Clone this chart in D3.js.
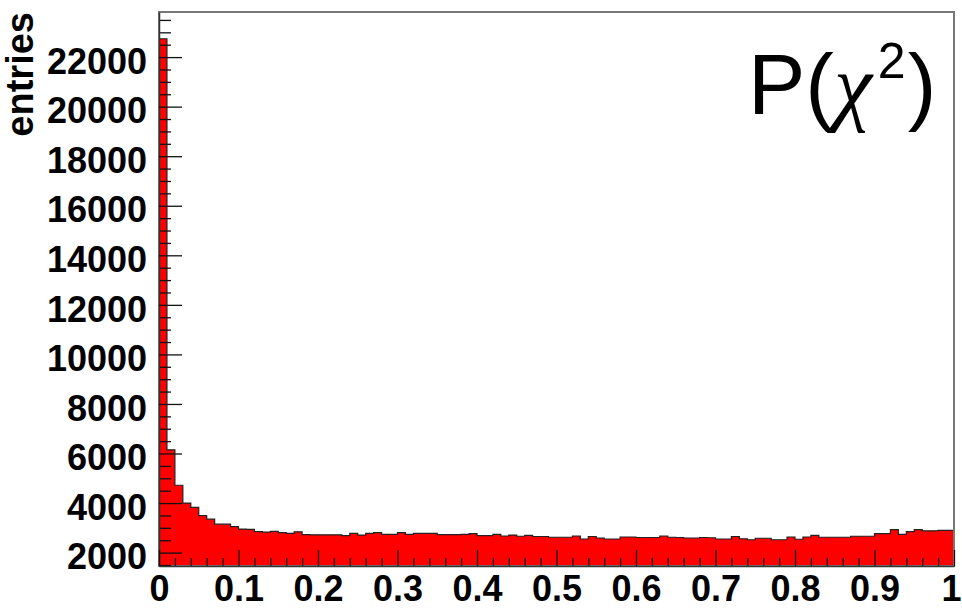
<!DOCTYPE html>
<html>
<head>
<meta charset="utf-8">
<script src="https://cdn.jsdelivr.net/npm/d3@7"></script>
<style>
  html, body { margin: 0; padding: 0; background: #fff; }
  svg { display: block; }
</style>
</head>
<body>
<div id="chart"></div>
<script>
// histogram of P(chi2), 100 bins between 0 and 1
const binCounts = [
  22740, 6150, 4720, 4000, 3830, 3490, 3350, 3150, 3150, 3050,
  2950, 2940, 2850, 2830, 2860, 2810, 2780, 2840, 2730, 2720,
  2720, 2720, 2720, 2690, 2780, 2710, 2780, 2810, 2740, 2740,
  2810, 2740, 2780, 2780, 2780, 2730, 2730, 2730, 2740, 2770,
  2690, 2690, 2740, 2670, 2710, 2660, 2700, 2650, 2650, 2620,
  2620, 2620, 2670, 2550, 2650, 2590, 2550, 2550, 2630, 2630,
  2610, 2610, 2610, 2670, 2620, 2610, 2590, 2590, 2610, 2600,
  2550, 2550, 2650, 2560, 2520, 2580, 2580, 2520, 2520, 2630,
  2540, 2630, 2700, 2620, 2620, 2620, 2620, 2660, 2660, 2660,
  2770, 2770, 2930, 2740, 2850, 2930, 2880, 2880, 2900, 2900
];
const xRange = [0, 1];
const yRange = [1460, 23820];
const xMajorTicks = [0, 0.1, 0.2, 0.3, 0.4, 0.5, 0.6, 0.7, 0.8, 0.9, 1];
const xTickLabels = ["0", "0.1", "0.2", "0.3", "0.4", "0.5", "0.6", "0.7", "0.8", "0.9", "1"];
const yMajorTicks = [2000, 4000, 6000, 8000, 10000, 12000, 14000, 16000, 18000, 20000, 22000];
const yTitle = "entries";

const width = 962, height = 608;
const margin = { top: 12, right: 8, bottom: 42, left: 159 };

const svg = d3.select("#chart").append("svg")
    .attr("width", width)
    .attr("height", height)
    .style("font-family", "'Liberation Sans', Arial, sans-serif");

const x = d3.scaleLinear().domain(xRange).range([margin.left, width - margin.right]);
const y = d3.scaleLinear().domain(yRange).range([height - margin.bottom, margin.top]);

const nBins = binCounts.length;
const binW = (xRange[1] - xRange[0]) / nBins;
const bins = binCounts.map((v, i) => ({ x0: xRange[0] + i * binW, v: v }));
// extra point so the last step is closed
const stepPts = bins.concat([{ x0: xRange[1], v: binCounts[nBins - 1] }]);

// filled histogram
svg.append("path")
    .datum(stepPts)
    .attr("fill", "#ff0000")
    .attr("d", d3.area()
        .curve(d3.curveStepAfter)
        .x(d => x(d.x0))
        .y0(y(yRange[0]))
        .y1(d => y(d.v)));

// outline
svg.append("path")
    .datum(stepPts)
    .attr("fill", "none")
    .attr("stroke", "#222")
    .attr("stroke-width", 1.2)
    .attr("d", d3.line()
        .curve(d3.curveStepAfter)
        .x(d => x(d.x0))
        .y(d => y(d.v)));

// frame
svg.append("rect")
    .attr("x", x(xRange[0]))
    .attr("y", y(yRange[1]))
    .attr("width", x(xRange[1]) - x(xRange[0]))
    .attr("height", y(yRange[0]) - y(yRange[1]))
    .attr("fill", "none")
    .attr("stroke", "#777")
    .attr("stroke-width", 2);

// y axis : ticks point inwards
const yMinor = d3.range(1500, yRange[1], 500).filter(v => v % 2000 !== 0);
svg.append("g")
    .attr("transform", `translate(${x(xRange[0])},0)`)
    .call(d3.axisLeft(y).tickValues(yMinor).tickSizeInner(-12).tickSizeOuter(0).tickFormat(""))
    .call(g => g.select(".domain").remove())
    .call(g => g.selectAll("line").attr("stroke", "#111").attr("stroke-width", 1.3));

const yAxis = svg.append("g")
    .attr("transform", `translate(${x(xRange[0])},0)`)
    .call(d3.axisLeft(y).tickValues(yMajorTicks).tickSizeInner(-23).tickSizeOuter(0).tickPadding(12)
        .tickFormat(d3.format("d")))
    .call(g => g.select(".domain").attr("stroke", "#333").attr("stroke-width", 1.5));
yAxis.selectAll("line").attr("stroke", "#111").attr("stroke-width", 1.3);
yAxis.selectAll("text")
    .attr("dy", "0.45em")
    .style("font-size", "36px")
    .style("font-weight", "bold")
    .attr("fill", "#000");

// x axis
const xMinor = d3.range(0, 50).map(i => i * 0.02).filter((v, i) => i % 5 !== 0);
svg.append("g")
    .attr("transform", `translate(0,${y(yRange[0])})`)
    .call(d3.axisBottom(x).tickValues(xMinor).tickSizeInner(-8).tickSizeOuter(0).tickFormat(""))
    .call(g => g.select(".domain").remove())
    .call(g => g.selectAll("line").attr("stroke", "#111").attr("stroke-width", 1.3));

const xAxis = svg.append("g")
    .attr("transform", `translate(0,${y(yRange[0])})`)
    .call(d3.axisBottom(x).tickValues(xMajorTicks).tickSizeInner(-16).tickSizeOuter(0).tickPadding(9)
        .tickFormat((d, i) => xTickLabels[i]))
    .call(g => g.select(".domain").attr("stroke", "#333").attr("stroke-width", 1.5));
xAxis.selectAll("line").attr("stroke", "#111").attr("stroke-width", 1.3);
xAxis.selectAll("text")
    .style("font-size", "36px")
    .style("font-weight", "bold")
    .attr("fill", "#000")
    .attr("dx", d => d === xRange[1] ? -3 : 0); // keep the "1" inside the window

// axis title
svg.append("text")
    .attr("transform", `translate(33,${margin.top}) rotate(-90)`)
    .attr("text-anchor", "end")
    .style("font-size", "38px")
    .style("font-weight", "bold")
    .text(yTitle);

// P(chi^2) label
const lab = svg.append("text")
    .attr("x", 748)
    .attr("y", 114)
    .style("font-size", "86px")
    .attr("fill", "#000");
lab.append("tspan").text("P(");
lab.append("tspan").style("font-family", "'Liberation Serif', serif").style("font-style", "italic").text("χ");
lab.append("tspan").attr("dy", -36).attr("dx", 6).style("font-size", "50px").text("2");
lab.append("tspan").attr("dy", 36).attr("dx", 2).text(")");
</script>
</body>
</html>
